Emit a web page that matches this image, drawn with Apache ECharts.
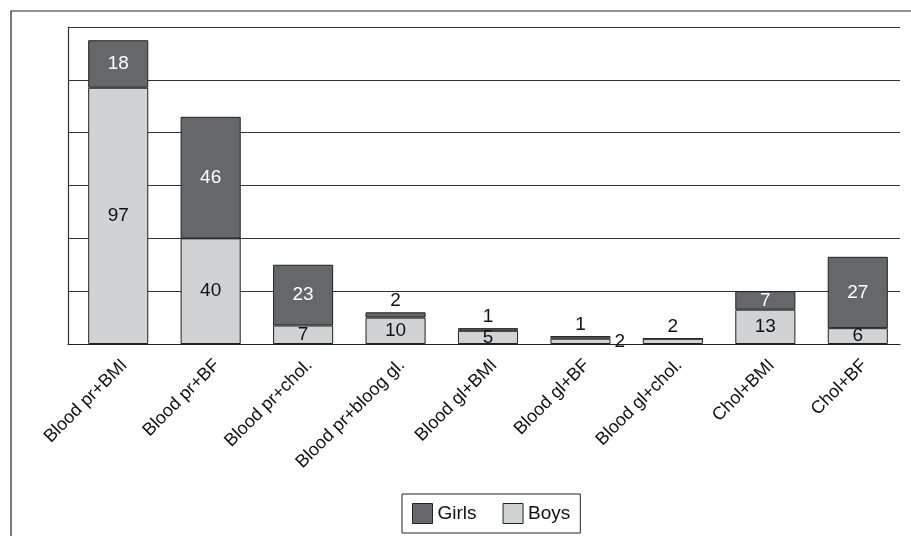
<!DOCTYPE html>
<html>
<head>
<meta charset="utf-8">
<script src="https://cdn.jsdelivr.net/npm/echarts@6/dist/echarts.min.js"></script>
<style>
  html, body { margin: 0; padding: 0; background: #fff; }
  #chartsDiv { width: 911px; height: 536px; }
</style>
</head>
<body>
<div id="chartsDiv"></div>
<script>
var categories = ['Blood pr+BMI', 'Blood pr+BF', 'Blood pr+chol.', 'Blood pr+bloog gl.',
  'Blood gl+BMI', 'Blood gl+BF', 'Blood gl+chol.', 'Chol+BMI', 'Chol+BF'];
var boysValues = [97, 40, 7, 10, 5, 2, 2, 13, 6];
var girlsValues = [18, 46, 23, 2, 1, 1, 0, 7, 27];
var yTicks = [0, 20, 40, 60, 80, 100, 120];

var FONT = '"Liberation Sans", Arial, sans-serif';

// small segments get their label outside the bar
var girlsData = girlsValues.map(function (v) {
  var item = { value: v };
  if (v === 0) {
    item.label = { show: false };
  } else if (v < 3) {
    item.label = { position: 'top', color: '#111', distance: 2 };
  }
  return item;
});
var boysData = boysValues.map(function (v, i) {
  var item = { value: v };
  if (v < 3) {
    item.label = girlsValues[i] > 0
      ? { position: 'right', distance: 4 }
      : { position: 'top', distance: 2 };
  }
  return item;
});

var realChart = echarts.init(document.getElementById('chartsDiv'));
var option = {
  animation: false,
  textStyle: { fontFamily: FONT },
  graphic: [{
    type: 'rect',
    shape: { x: 11, y: 11, width: 1000, height: 600 },
    style: { fill: 'none', stroke: '#222', lineWidth: 1.2 },
    silent: true
  }],
  // grid 0 holds the bars, grid 1 draws the frame lines (slightly offset)
  grid: [
    { left: 72, right: 7, top: 27, bottom: 192 },
    { left: 68, right: 11, top: 27, bottom: 192 }
  ],
  legend: {
    data: ['Girls', 'Boys'],
    left: 402,
    top: 494,
    itemWidth: 20,
    itemHeight: 20,
    itemGap: 26,
    padding: [9, 10, 9, 10],
    borderColor: '#222',
    borderWidth: 1,
    icon: 'rect',
    itemStyle: { borderColor: '#222', borderWidth: 1 },
    textStyle: { fontSize: 19, color: '#111', fontFamily: FONT }
  },
  xAxis: [{
    gridIndex: 0,
    type: 'category',
    data: categories,
    axisLine: { show: false },
    axisTick: { show: false },
    axisLabel: {
      rotate: 45,
      interval: 0,
      margin: 12,
      verticalAlign: 'top',
      fontSize: 18,
      color: '#111',
      fontFamily: FONT
    }
  }, {
    gridIndex: 1,
    type: 'category',
    data: categories,
    axisLine: { lineStyle: { color: '#222', width: 1.2 } },
    axisTick: { show: false },
    axisLabel: { show: false }
  }],
  yAxis: [{
    gridIndex: 0,
    type: 'value',
    min: yTicks[0],
    max: yTicks[yTicks.length - 1],
    interval: yTicks[1] - yTicks[0],
    axisLine: { show: false },
    axisTick: { show: false },
    axisLabel: { show: false },
    splitLine: { show: false }
  }, {
    gridIndex: 1,
    type: 'value',
    min: yTicks[0],
    max: yTicks[yTicks.length - 1],
    interval: yTicks[1] - yTicks[0],
    axisLine: { show: true, lineStyle: { color: '#333', width: 1.2 } },
    axisTick: { show: false },
    axisLabel: { show: false },
    splitLine: { lineStyle: { color: '#333', width: 1 } }
  }],
  series: [{
    name: 'Boys',
    type: 'bar',
    stack: 'total',
    barWidth: '65%',
    itemStyle: { color: '#d1d2d4', borderColor: '#222', borderWidth: 1 },
    label: {
      show: true,
      position: 'inside',
      color: '#111',
      fontSize: 19,
      fontFamily: FONT
    },
    data: boysData
  }, {
    name: 'Girls',
    type: 'bar',
    stack: 'total',
    barWidth: '65%',
    itemStyle: { color: '#66676b', borderColor: '#222', borderWidth: 1 },
    label: {
      show: true,
      position: 'inside',
      color: '#fff',
      fontSize: 19,
      fontFamily: FONT
    },
    data: girlsData
  }]
};
realChart.setOption(option);
</script>
</body>
</html>
